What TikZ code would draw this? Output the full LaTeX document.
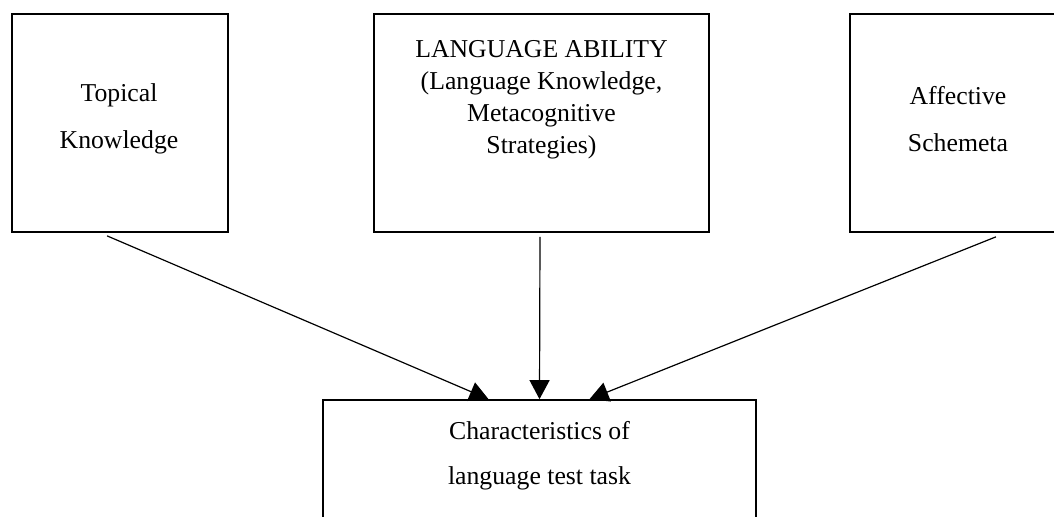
\documentclass[tikz,border=0pt]{standalone}
\usepackage{fontspec}
\setmainfont{Liberation Serif}
\usetikzlibrary{calc,arrows.meta}
\definecolor{CLN}{RGB}{0,0,0}

\begin{document}
\begin{tikzpicture}[x=0.025cm,y=-0.025cm,
  box/.style={draw=CLN,line width=1.15pt,inner sep=0pt},
  txt/.style={align=center,inner sep=0pt},
  arr/.style={draw=CLN,line width=0.85pt,-{Triangle[length=0.475cm,width=0.5cm]}}]
  \clip (0,0) rectangle (1054,517);
  \node[box,minimum width=5.4cm,minimum height=5.45cm] (tk) at (120,123) {};
  \node[box,minimum width=8.375cm,minimum height=5.45cm] (la) at (541.5,123) {};
  \node[box,minimum width=5.4cm,minimum height=5.45cm] (as) at (958,123) {};
  \node[box,minimum width=10.825cm,minimum height=4.5cm] (ch) at (539.5,490) {};
  \node[txt,font=\fontsize{18.3}{33.3}\selectfont] (tkt) at (119,119) {Topical\\Knowledge};
  \node[txt,font=\fontsize{18.3}{22.7}\selectfont] (lat) at (541.5,100) {LANGUAGE ABILITY\\(Language Knowledge,\\Metacognitive\\Strategies)};
  \node[txt,font=\fontsize{18.3}{33.3}\selectfont] (ast) at (958,119) {Affective\\Schemeta};
  \node[txt,font=\fontsize{18.3}{32}\selectfont] (cht) at (539.5,456) {Characteristics of\\language test task};
  \draw[arr] ($(tk.south)+(-13,3)$) -- ($(ch.north)+(-51,0)$);
  \draw[arr] ($(la.south)+(-1.5,4)$) -- (ch.north);
  \draw[arr] ($(as.south)+(38,4)$) -- ($(ch.north)+(50,0)$);
\end{tikzpicture}
\end{document}
